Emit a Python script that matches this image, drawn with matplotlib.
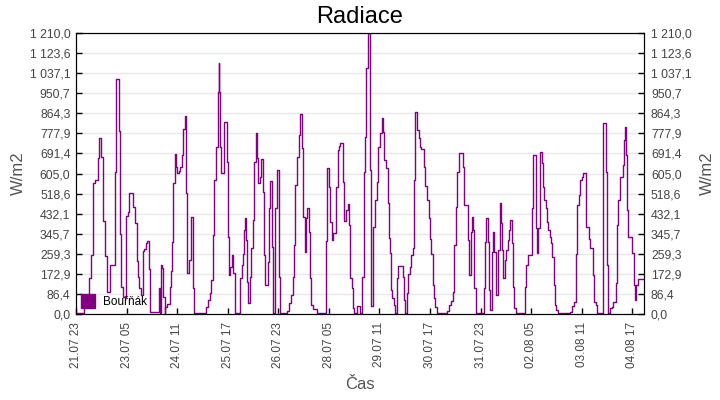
import matplotlib
matplotlib.use("Agg")
import matplotlib.pyplot as plt
from matplotlib.lines import Line2D

plt.rcParams["font.family"] = ["Liberation Sans", "DejaVu Sans"]

# hours since 21.07 23:00 and radiation values (W/m2), step data
hours = [
    0, 4.9, 6.5, 7.9, 9.1, 9.9, 10.3, 11.5, 13.0, 13.8, 15.0, 15.8, 17.4, 18.2,
    20.4, 23.3, 23.7, 25.3, 26.1, 26.9, 27.7, 29.6, 30.6, 31.2, 33.6, 35.2,
    36.0, 36.8, 37.5, 38.5, 39.5, 40.5, 41.5, 42.3, 43.1, 43.9, 49.4, 49.8,
    50.2, 51.0, 51.6, 52.6, 53.0, 53.7, 55.7, 56.1, 56.9, 57.7, 58.5, 59.3,
    60.1, 61.0, 61.6, 62.8, 63.6, 64.4, 65.4, 66.0, 67.2, 68.0, 68.4, 69.2,
    69.5, 70.0, 77.3, 78.2, 79.4, 80.2, 81.0, 81.8, 83.0, 84.2, 84.6, 85.0,
    85.4, 86.1, 88.1, 89.3, 90.1, 90.5, 91.3, 92.5, 93.3, 94.5, 97.4, 98.2,
    99.0, 99.6, 100.2, 100.8, 101.3, 102.1, 103.3, 104.1, 104.9, 105.7, 106.5,
    107.5, 108.1, 109.2, 110.0, 110.8, 111.6, 112.4, 114.0, 114.6, 115.2,
    116.4, 116.8, 118.3, 119.1, 120.3, 121.1, 125.3, 126.2, 127.4, 128.6,
    129.4, 130.2, 131.4, 132.2, 133.0, 134.1, 134.9, 135.7, 136.5, 137.3,
    138.1, 138.9, 139.7, 140.5, 142.8, 148.2, 148.9, 150.1, 150.9, 151.7,
    152.5, 154.5, 155.3, 156.1, 156.9, 158.4, 159.2, 160.0, 161.2, 162.0,
    162.8, 163.6, 164.4, 165.2, 166.7, 168.3, 169.9, 170.7, 171.5, 172.3,
    173.1, 174.6, 175.0, 176.2, 177.4, 178.6, 179.4, 180.6, 181.4, 182.2,
    183.0, 183.7, 184.9, 185.7, 186.5, 186.9, 187.7, 188.5, 189.3, 190.5,
    191.2, 194.2, 194.6, 195.0, 196.2, 196.9, 198.1, 198.9, 199.7, 200.5,
    201.3, 202.5, 203.3, 204.1, 204.9, 206.4, 207.2, 208.4, 209.2, 210.0,
    210.8, 211.6, 212.4, 213.2, 214.0, 220.3, 221.5, 222.2, 223.4, 224.2,
    225.4, 226.2, 227.4, 229.8, 230.5, 232.5, 233.3, 234.5, 235.1, 235.7,
    236.1, 237.3, 241.9, 242.7, 243.5, 244.3, 245.0, 245.4, 246.6, 247.4,
    248.2, 249.0, 250.6, 251.4, 252.2, 253.0, 253.3, 254.5, 255.3, 256.1,
    256.9, 257.7, 258.5, 259.3, 259.7, 261.3, 266.4, 267.2, 268.4, 270.3,
    271.1, 272.7, 273.5, 274.3, 275.1, 275.5, 276.7, 277.1, 277.9, 278.6,
    279.4, 280.2, 281.0, 281.8, 282.6, 283.4, 284.2, 285.0, 285.8, 292.8,
    294.0, 295.2, 296.4, 297.2, 298.4, 299.2, 300.0, 300.7, 302.7, 304.3,
    305.1, 306.7, 307.5, 308.3, 309.0, 312.4, 312.8, 314.2, 315.0, 315.8,
    316.6, 318.1, 318.9, 320.1, 320.9, 321.7, 322.9, 324.5, 324.9, 325.6,
    326.2, 326.8, 327.6, 330.0, 330.8, 331.6, 332.4, 333.2, 337.0,
]
values = [
    6, 35, 80, 155, 255, 460, 565, 575, 670, 760, 675, 400, 250, 95,
    211, 610, 1010, 790, 345, 118, 75, 420, 440, 520, 460, 390,
    230, 160, 110, 80, 270, 280, 305, 315, 195, 10, 110, 6,
    211, 200, 75, 6, 30, 45, 118, 187, 311, 563, 689, 634,
    606, 615, 631, 685, 796, 854, 520, 175, 232, 362, 416, 362,
    110, 6, 30, 60, 90, 145, 340, 577, 720, 957, 1079, 957,
    720, 606, 828, 656, 333, 168, 204, 254, 175, 6, 154, 211,
    258, 362, 412, 318, 139, 46, 161, 283, 405, 653, 778,
    670, 563, 591, 666, 527, 253, 125, 225, 455, 574,
    290, 6, 455, 620, 160, 6, 15, 46, 82, 161,
    297, 555, 677, 770, 860, 713, 419, 268, 412, 455,
    354, 154, 39, 20, 6, 316, 627, 548, 397, 319,
    347, 548, 706, 723, 738, 570, 402, 448, 472, 383,
    154, 110, 24, 6, 34, 6, 161, 613, 763, 1058,
    1210, 620, 34, 376, 491, 570, 720, 778, 842, 784,
    663, 627, 476, 326, 261, 103, 67, 39, 6, 154,
    207, 161, 60, 6, 89, 172, 201, 254, 283, 577,
    868, 792, 756, 717, 709, 634, 551, 491, 412, 321,
    258, 125, 67, 32, 6, 15, 39, 57, 96, 297,
    462, 613, 692, 634, 469, 319, 168, 354, 419, 362,
    110, 6, 110, 311, 412, 311, 103, 17, 268, 354,
    268, 82, 276, 476, 390, 276, 154, 232, 276, 319,
    362, 405, 304, 118, 24, 6, 118, 211, 254, 455,
    685, 369, 261, 369, 591, 696, 649, 548, 491, 455,
    397, 362, 333, 304, 247, 125, 39, 17, 6, 10,
    34, 53, 258, 469, 512, 577, 591, 606, 376, 321,
    283, 168, 53, 39, 6, 412, 821, 613, 211, 6,
    25, 30, 53, 132, 383, 491, 591, 641, 749, 806,
    684, 448, 333, 261, 125, 60, 125, 149, 149,
]

x_ticks = [0, 30, 60, 90, 120, 150, 180, 210, 240, 270, 300, 330]
x_labels = ["21.07 23", "23.07 05", "24.07 11", "25.07 17", "26.07 23", "28.07 05",
            "29.07 11", "30.07 17", "31.07 23", "02.08 05", "03.08 11", "04.08 17"]
y_ticks = [1210 * i / 14 for i in range(15)]
y_labels = ["0,0", "86,4", "172,9", "259,3", "345,7", "432,1", "518,6", "605,0",
            "691,4", "777,9", "864,3", "950,7", "1 037,1", "1 123,6", "1 210,0"]

color = "#800080"

fig = plt.figure(figsize=(7.2, 4), dpi=100)
ax = fig.add_axes([76 / 720, 86 / 400, 568 / 720, 281 / 400])
ax.step(hours, values, where="post", color=color, linewidth=1.0)

ax.set_xlim(0, 337)
ax.set_ylim(0, 1210)
ax.set_xticks(x_ticks)
ax.set_xticklabels(x_labels, rotation=90, fontsize=8.5, color="#444444")
ax.set_yticks(y_ticks)
ax.set_yticklabels(y_labels, fontsize=8.8, color="#444444")
ax.tick_params(direction="in", length=4, width=1)
ax.tick_params(axis="x", pad=6)
ax.tick_params(axis="y", pad=4)
ax.yaxis.grid(True, color="#e8e8e8", linewidth=1)
ax.set_axisbelow(True)

ax2 = ax.twinx()
ax2.set_ylim(0, 1210)
ax2.set_yticks(y_ticks)
ax2.set_yticklabels(y_labels, fontsize=8.8, color="#444444")
ax2.tick_params(direction="in", length=4, width=1, pad=5)

ax.set_title("Radiace", fontsize=17, pad=7)
ax.set_xlabel("Čas", fontsize=12, color="#555555", labelpad=6)
ax.set_ylabel("W/m2", fontsize=12, color="#555555", labelpad=3)
ax2.set_ylabel("W/m2", fontsize=12, color="#555555", rotation=90, labelpad=6)

handle = Line2D([], [], marker="s", linestyle="none", markersize=9.5, color=color)
ax.legend([handle], ["Bouřňák"], loc="lower left", frameon=False, fontsize=8.5,
          handlelength=1.0, handletextpad=0.8, borderaxespad=0.2, borderpad=0.3)

fig.savefig("out.png", dpi=100)
